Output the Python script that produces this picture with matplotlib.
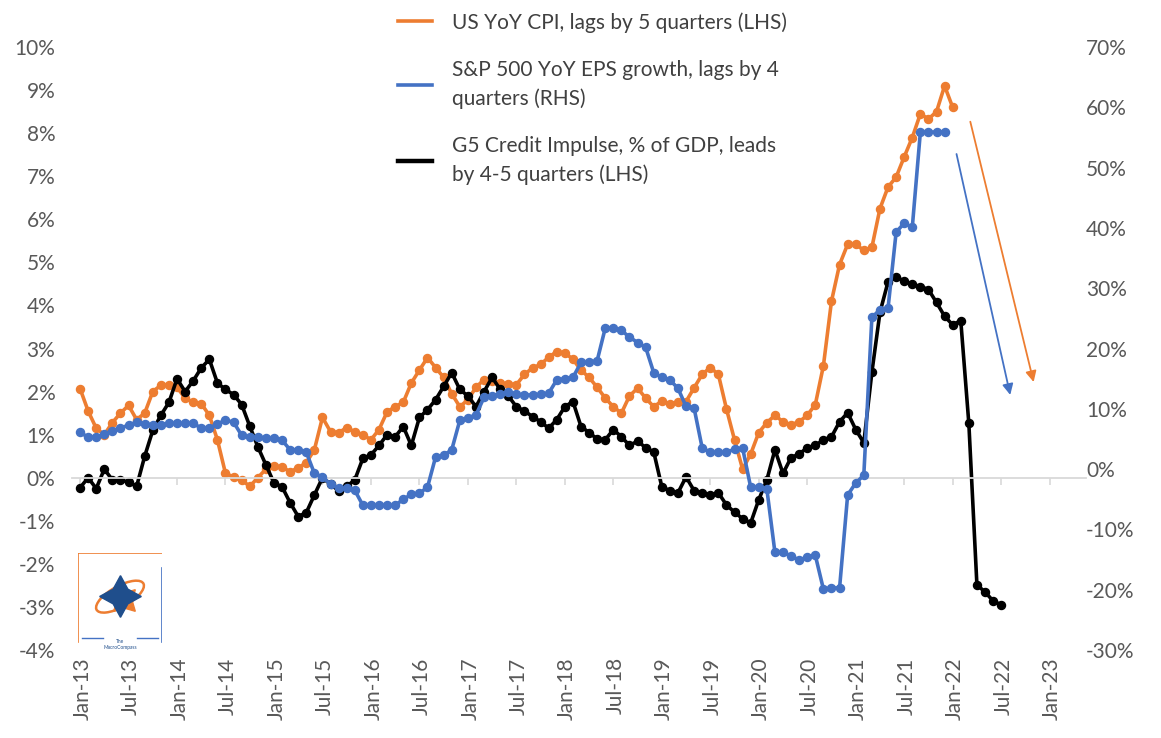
import numpy as np
import matplotlib.pyplot as plt
from matplotlib.lines import Line2D
from matplotlib.patches import Ellipse
import matplotlib.transforms as mtransforms

plt.rcParams['font.family'] = ['Lato', 'DejaVu Sans']

# monthly series, month 0 = Jan-13
cpi = [2.07, 1.55, 1.15, 1.0, 1.28, 1.5, 1.68, 1.35, 1.5, 2.0,
       2.15, 2.15, 2.1, 1.85, 1.75, 1.72, 1.45, 0.88, 0.1, 0.02,
       -0.05, -0.2, 0.0, 0.2, 0.28, 0.25, 0.14, 0.23, 0.35, 0.65,
       1.4, 1.07, 1.05, 1.16, 1.07, 1.0, 0.88, 1.12, 1.53, 1.65,
       1.75, 2.2, 2.5, 2.79, 2.56, 2.33, 1.95, 1.65, 1.81, 2.1,
       2.28, 2.25, 2.2, 2.18, 2.16, 2.4, 2.55, 2.63, 2.8, 2.93,
       2.9, 2.75, 2.5, 2.33, 2.1, 1.85, 1.65, 1.5, 1.9, 2.08,
       1.85, 1.65, 1.78, 1.72, 1.75, 1.77, 2.09, 2.4, 2.56, 2.4,
       1.6, 0.88, 0.2, 0.55, 1.05, 1.28, 1.45, 1.3, 1.23, 1.3,
       1.45, 1.7, 2.6, 4.1, 4.95, 5.42, 5.42, 5.28, 5.35, 6.25,
       6.75, 6.98, 7.45, 7.9, 8.45, 8.33, 8.5, 9.1, 8.6]

eps = [6.1, 5.3, 5.3, 5.8, 6.4, 6.8, 7.3, 7.8, 7.5, 7.3,
       7.4, 7.6, 7.6, 7.6, 7.6, 6.8, 6.8, 7.5, 8.1, 7.8,
       5.6, 5.3, 5.3, 5.1, 5.1, 4.8, 3.2, 3.2, 2.8, -0.7,
       -1.3, -2.5, -3.2, -3.2, -3.5, -6.0, -6.0, -6.0, -6.0, -6.0,
       -5.0, -4.2, -4.0, -3.0, 2.0, 2.3, 3.2, 8.1, 8.5, 9.0,
       11.9, 12.2, 12.5, 12.8, 12.4, 12.3, 12.3, 12.4, 12.6, 14.8,
       15.0, 15.2, 17.7, 17.7, 18.0, 23.4, 23.4, 23.0, 21.9, 21.0,
       20.2, 16.0, 15.2, 14.8, 13.4, 10.4, 10.1, 3.5, 2.8, 2.8,
       2.8, 3.3, 3.5, -3.0, -3.0, -3.3, -13.8, -13.8, -14.4, -15.1,
       -14.6, -14.3, -19.9, -19.7, -19.7, -4.3, -2.3, -1.0, 25.2, 26.4,
       26.7, 39.3, 40.8, 40.1, 55.9, 55.9, 55.9, 55.9]

impulse = [-0.23, 0.0, -0.25, 0.2, -0.05, -0.05, -0.1, -0.2, 0.5, 1.1,
           1.45, 1.75, 2.3, 2.0, 2.25, 2.55, 2.75, 2.2, 2.05, 1.93,
           1.7, 1.2, 0.72, 0.3, -0.12, -0.21, -0.58, -0.9, -0.81, -0.4,
           0.0, -0.15, -0.3, -0.2, -0.05, 0.45, 0.53, 0.75, 1.0, 0.95,
           1.19, 0.75, 1.4, 1.58, 1.81, 2.12, 2.44, 2.05, 1.9, 1.65,
           2.0, 2.33, 2.05, 1.9, 1.65, 1.55, 1.42, 1.3, 1.15, 1.35,
           1.65, 1.77, 1.19, 1.05, 0.9, 0.88, 1.12, 0.95, 0.75, 0.85,
           0.7, 0.6, -0.21, -0.3, -0.35, 0.02, -0.3, -0.35, -0.4, -0.35,
           -0.63, -0.8, -0.95, -1.05, -0.51, -0.05, 0.65, 0.1, 0.47, 0.55,
           0.7, 0.75, 0.88, 0.95, 1.3, 1.51, 1.12, 0.81, 2.45, 3.84,
           4.55, 4.67, 4.56, 4.49, 4.44, 4.37, 4.07, 3.75, 3.55, 3.65,
           1.26, -2.49, -2.65, -2.86, -2.95]

tick_labels = ['Jan-13', 'Jul-13', 'Jan-14', 'Jul-14', 'Jan-15', 'Jul-15',
               'Jan-16', 'Jul-16', 'Jan-17', 'Jul-17', 'Jan-18', 'Jul-18',
               'Jan-19', 'Jul-19', 'Jan-20', 'Jul-20', 'Jan-21', 'Jul-21',
               'Jan-22', 'Jul-22', 'Jan-23']
labels = ['US YoY CPI, lags by 5 quarters (LHS)',
          'S&P 500 YoY EPS growth, lags by 4\nquarters (RHS)',
          'G5 Credit Impulse, % of GDP, leads\nby 4-5 quarters (LHS)']

orange = '#ED7D31'
blue = '#4472C4'
grey = '#595959'

fig = plt.figure(figsize=(11.61, 7.38), dpi=100)
ax = fig.add_axes([0.062, 0.1192, 0.8734, 0.817])
ax2 = ax.twinx()

mk = dict(marker='o', markersize=5.8, linewidth=2.6)
ax.plot(np.arange(len(cpi)), cpi, color=orange, **mk)
ax.plot(np.arange(len(impulse)), impulse, color='black', **mk)
ax2.plot(np.arange(len(eps)), eps, color=blue, **mk)

ax.set_xlim(-1, 124.5)
ax.set_ylim(-4, 10)
ax2.set_ylim(-30, 70)
ax.set_yticks(range(-4, 11))
ax.set_yticklabels([f'{v}%' for v in range(-4, 11)])
ax2.set_yticks(range(-30, 71, 10))
ax2.set_yticklabels([f'{v}%' for v in range(-30, 71, 10)])

for a in (ax, ax2):
    for s in ['top', 'left', 'right', 'bottom']:
        a.spines[s].set_visible(False)
ax.spines['bottom'].set_visible(True)
ax.spines['bottom'].set_position(('data', 0))
ax.spines['bottom'].set_color('#D9D9D9')
ax.spines['bottom'].set_linewidth(1.3)

ax.set_xticks(range(0, 121, 6))
ax.tick_params(axis='x', direction='out', length=5, color='#D9D9D9',
               width=1.2, labelbottom=False)
ax.tick_params(axis='y', length=0, labelsize=15, labelcolor=grey, pad=12)
ax2.tick_params(axis='y', length=0, labelsize=15, labelcolor=grey, pad=0)

trans = mtransforms.blended_transform_factory(ax.transData, ax.transAxes)
for i, lab in enumerate(tick_labels):
    ax.text(i * 6 + 0.3, -0.012, lab, transform=trans, rotation=90,
            ha='center', va='top', fontsize=15, color=grey)

# trend arrows
ax.annotate('', xy=(118.1, 2.16), xytext=(110.1, 8.33),
            arrowprops=dict(arrowstyle='-|>', color=orange, lw=1.3,
                            mutation_scale=16))
ax.annotate('', xy=(115.2, 1.86), xytext=(108.4, 7.58),
            arrowprops=dict(arrowstyle='-|>', color=blue, lw=1.3,
                            mutation_scale=16))

handles = [Line2D([], [], color=orange, lw=2.6),
           Line2D([], [], color=blue, lw=2.6),
           Line2D([], [], color='black', lw=3.2)]
leg = fig.legend(handles, labels, loc='upper left',
                 bbox_to_anchor=(398 / 1161, 1 - 12 / 738), frameon=False,
                 fontsize=15, handlelength=1.65, handletextpad=0.95,
                 labelspacing=1.3, borderpad=0, borderaxespad=0)
for t in leg.get_texts():
    t.set_color('#404040')
    t.set_linespacing(1.5)

# simplified logo
lax = fig.add_axes([78 / 1161, 88 / 738, 84 / 1161, 97 / 738])
lax.set_xlim(0, 1)
lax.set_ylim(0, 1)
lax.axis('off')
lax.plot([0, 0, 1], [0.08, 1, 1], color=orange, lw=1.2)
lax.plot([1, 1], [0.08, 0.85], color=blue, lw=1.2)
lax.plot([0.05, 0.3], [0.12, 0.12], color=blue, lw=1)
lax.plot([0.7, 0.95], [0.12, 0.12], color=blue, lw=1)
lax.add_patch(Ellipse((0.5, 0.55), 0.62, 0.22, angle=25, fill=False,
                      ec=orange, lw=1.8))
lax.plot(0.55, 0.52, marker=(4, 1, 45), markersize=22, color=orange)
lax.plot(0.5, 0.56, marker=(4, 1, 0), markersize=30, color='#1F4E8C')
lax.text(0.5, 0.06, 'The\nMacroCompass', ha='center', va='center',
         fontsize=3.5, color='#1F4E8C')

fig.savefig('out.png', dpi=100)
